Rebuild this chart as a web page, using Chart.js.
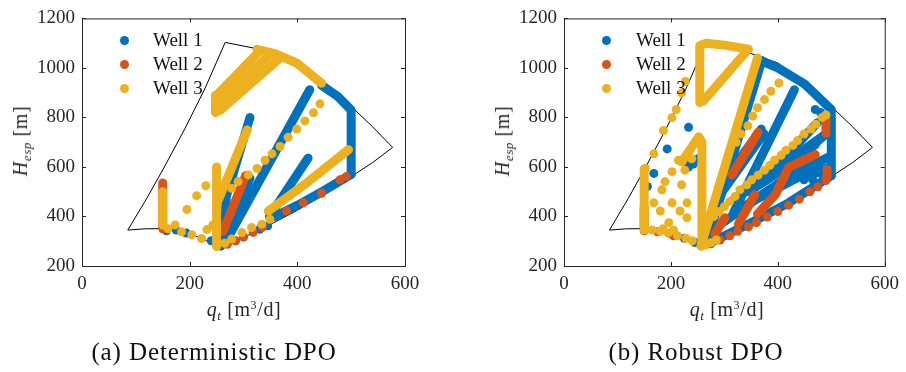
<!DOCTYPE html>
<html>
<head>
<meta charset="utf-8">
<script src="https://cdn.jsdelivr.net/npm/chart.js@4.4.1/dist/chart.umd.min.js"></script>
<style>
  body { margin: 0; background: #fff; }
  #wrap { position: relative; width: 906px; height: 372px; overflow: hidden; font-family: 'Liberation Serif', serif; color: #262626; }
  canvas { position: absolute; top: 0; }
  .lbl { position: absolute; white-space: nowrap; font-size: 20px; line-height: 1; letter-spacing: 0.6px; }
  .ylbl { transform: translate(-50%, -50%) rotate(-90deg); }
  .xlbl { transform: translate(-50%, -50%); }
  .cap { position: absolute; white-space: nowrap; font-size: 25px; letter-spacing: 0.9px; color: #111; transform: translate(-50%, -50%); }
  .sub { font-size: 13px; position: relative; top: 4px; }
  .sup { font-size: 12px; position: relative; top: -7px; }
  .leg { position: absolute; font-size: 19px; line-height: 1; color: #111; }
  .dot { position: absolute; width: 9px; height: 9px; border-radius: 50%; }
</style>
</head>
<body>
<div id="wrap">
  <canvas id="detChart" width="453" height="320" style="left:0"></canvas>
  <canvas id="robChart" width="453" height="320" style="left:453px"></canvas>

  <div class="lbl ylbl" style="left:20px; top:141px"><i>H</i><span class="sub"><i>esp</i></span> [m]</div>
  <div class="lbl xlbl" style="left:244px; top:309px"><i>q</i><span class="sub"><i>t</i></span> [m<span class="sup">3</span>/d]</div>
  <div class="lbl ylbl" style="left:502px; top:141px"><i>H</i><span class="sub"><i>esp</i></span> [m]</div>
  <div class="lbl xlbl" style="left:727px; top:309px"><i>q</i><span class="sub"><i>t</i></span> [m<span class="sup">3</span>/d]</div>

  <div class="cap" style="left:214px; top:352px">(a) Deterministic DPO</div>
  <div class="cap" style="left:696px; top:352px">(b) Robust DPO</div>

  <div id="legDet"></div>
  <div id="legRob"></div>
</div>

<script>
// axis ticks
const xTicks = [0, 200, 400, 600];
const yTicks = [200, 400, 600, 800, 1000, 1200];

const wellNames = ['Well 1', 'Well 2', 'Well 3'];
const wellColors = ['#0072BD', '#D95319', '#EDB120'];

// operating envelope of the pump (q [m3/d], H [m])
const envQ = [85, 120, 151, 190, 228, 266, 324, 400, 450, 507, 540, 577, 540, 500, 450, 400, 350, 300, 257, 225, 185, 150, 115, 85];
const envH = [345, 472, 592, 750, 915, 1103, 1078, 1020, 945, 830, 762, 679, 618, 561, 490, 425, 368, 315, 270, 310, 340, 351, 350, 345];

// (a) deterministic DPO - dense streaks of points and single points
const detW1Bands = [
  [[312, 800], [268, 480], [264, 300]],
  [[312, 555], [266, 310]],
  [[272, 318], [423, 912]],
  [[420, 636], [348, 400]],
  [[445, 930], [475, 885], [500, 830], [500, 570]],
  [[500, 570], [450, 505], [400, 445], [358, 400]]
];
const detW1Dots = [[157, 342], [175, 345], [194, 333], [240, 302], [258, 280], [285, 302], [300, 317], [330, 348], [345, 362], [368, 408]];

const detW2Bands = [
  [[150, 355], [150, 535]],
  [[304, 565], [262, 340]]
];
const detW2Dots = [[150, 350], [270, 288], [285, 302], [300, 318], [318, 336], [335, 356], [380, 422], [411, 455], [445, 494], [479, 548], [491, 561]];

const detW3Bands = [
  [[150, 365], [150, 500]],
  [[250, 278], [250, 600]],
  [[307, 750], [254, 470]],
  [[248, 820], [248, 890]],
  [[248, 885], [330, 1068]],
  [[252, 855], [348, 1052]],
  [[256, 828], [365, 1035]],
  [[325, 1075], [360, 1057], [400, 1018], [445, 938]],
  [[346, 422], [420, 540], [495, 670]]
];
const detW3Dots = [
  [278, 514], [290, 541], [309, 568], [325, 594], [340, 627], [353, 653], [368, 683], [383, 720], [399, 753], [414, 786], [430, 819], [442, 855],
  [230, 524], [213, 484], [195, 428], [173, 366], [185, 338], [204, 326], [222, 311], [232, 347], [243, 366], [160, 350],
  [265, 292], [278, 309], [297, 335], [315, 355], [334, 369], [349, 389]
];

// (b) robust DPO
const robW1Bands = [
  [[362, 1035], [400, 1000], [450, 935], [500, 832], [500, 565]],
  [[268, 300], [370, 1030]],
  [[317, 415], [431, 912]],
  [[289, 514], [369, 753]],
  [[296, 500], [374, 735]],
  [[317, 468], [378, 561], [490, 733]],
  [[400, 607], [474, 779]],
  [[431, 620], [493, 740]],
  [[330, 430], [420, 560], [495, 640]],
  [[300, 380], [360, 470], [440, 560], [498, 600]],
  [[345, 500], [410, 590], [470, 690]],
  [[270, 290], [350, 375], [420, 455], [500, 565]]
];
const robW1Dots = [
  [233, 760], [193, 673], [168, 574], [156, 521], [233, 600], [242, 612], [251, 633], [236, 625],
  [443, 581], [458, 601], [471, 574], [449, 548], [465, 548], [480, 574], [480, 820], [470, 832],
  [200, 330], [225, 312], [245, 295]
];

const robW2Bands = [
  [[150, 342], [150, 435]],
  [[314, 568], [363, 740]],
  [[362, 410], [396, 490], [420, 598], [470, 650]],
  [[326, 369], [357, 488]],
  [[282, 329], [301, 395]],
  [[490, 735], [490, 800]],
  [[492, 560], [492, 590]]
];
const robW2Dots = [
  [275, 290], [292, 305], [310, 322], [325, 340], [345, 358], [360, 375], [380, 398], [400, 420],
  [420, 445], [440, 470], [460, 500], [475, 520], [490, 545], [175, 338], [205, 322]
];

const robW3Bands = [
  [[150, 345], [150, 592]],
  [[254, 860], [254, 1090], [266, 1100], [300, 1092], [345, 1076], [260, 865]],
  [[256, 280], [362, 1040]],
  [[220, 620], [252, 722], [258, 700], [258, 282]]
];
const robW3Dots = [
  [152, 594], [168, 653], [186, 747], [202, 799], [210, 832], [220, 899], [227, 945], [254, 1058],
  [183, 508], [202, 581], [220, 528], [226, 587], [202, 455], [217, 422], [230, 455], [180, 422],
  [196, 375], [168, 455], [189, 541], [214, 627], [239, 633], [205, 345], [185, 350], [230, 395],
  [402, 939], [387, 906], [375, 872], [362, 839], [353, 806], [344, 766], [331, 733], [322, 700],
  [483, 800], [471, 773], [462, 753], [449, 733], [437, 707], [428, 687], [415, 667], [406, 647],
  [394, 627], [385, 607], [375, 587], [363, 567], [351, 548], [342, 528], [329, 508], [320, 481],
  [310, 460], [300, 440], [290, 420], [280, 400], [270, 380], [490, 810],
  [165, 345], [180, 340], [195, 333], [212, 322], [228, 312], [240, 302], [265, 285], [275, 295], [285, 305]
];

function toXY(list) {
  return list.map(p => ({ x: p[0], y: p[1] }));
}

function buildSets(bandsByWell, dotsByWell) {
  const sets = [];
  sets.push({
    data: envQ.map((q, i) => ({ x: q, y: envH[i] })),
    showLine: true, borderColor: '#000', borderWidth: 1, pointRadius: 0, fill: false
  });
  for (let w = 0; w < 3; w++) {
    bandsByWell[w].forEach(b => {
      sets.push({
        data: toXY(b), showLine: true, borderColor: wellColors[w], borderWidth: 9,
        borderCapStyle: 'round', borderJoinStyle: 'round', pointRadius: 0, fill: false
      });
    });
    sets.push({
      label: wellNames[w], data: toXY(dotsByWell[w]), showLine: false,
      backgroundColor: wellColors[w], borderWidth: 0, pointRadius: 4.5, pointHoverRadius: 4.5
    });
  }
  // chart.js draws the first dataset on top
  return sets.reverse();
}

// matlab-like box with inward ticks
const boxPlugin = {
  id: 'box',
  beforeDatasetsDraw(chart) {
    const { ctx, chartArea: a, scales } = chart;
    ctx.save();
    ctx.strokeStyle = '#262626';
    ctx.lineWidth = 1;
    ctx.strokeRect(a.left + 0.5, a.top + 0.5, a.right - a.left, a.bottom - a.top);
    ctx.beginPath();
    xTicks.forEach(v => {
      const x = Math.round(scales.x.getPixelForValue(v)) + 0.5;
      ctx.moveTo(x, a.bottom); ctx.lineTo(x, a.bottom - 4);
      ctx.moveTo(x, a.top); ctx.lineTo(x, a.top + 4);
    });
    yTicks.forEach(v => {
      const y = Math.round(scales.y.getPixelForValue(v)) + 0.5;
      ctx.moveTo(a.left, y); ctx.lineTo(a.left + 4, y);
      ctx.moveTo(a.right, y); ctx.lineTo(a.right - 4, y);
    });
    ctx.stroke();
    ctx.restore();
  }
};

function makeChart(id, sets, yWidth, rightPad) {
  const tickFont = { family: 'Liberation Serif', size: 19 };
  return new Chart(document.getElementById(id), {
    type: 'scatter',
    data: { datasets: sets },
    options: {
      responsive: false,
      animation: false,
      events: [],
      layout: { padding: { top: 14, right: rightPad, left: 0, bottom: 0 } },
      plugins: { legend: { display: false }, tooltip: { enabled: false } },
      scales: {
        x: {
          min: 0, max: 600,
          afterBuildTicks: s => { s.ticks = xTicks.map(v => ({ value: v })); },
          afterFit: s => { s.height = 54; },
          grid: { display: false, drawTicks: false },
          border: { display: false },
          ticks: { font: tickFont, color: '#262626', padding: 7, maxRotation: 0, callback: v => String(v) }
        },
        y: {
          min: 200, max: 1200,
          afterBuildTicks: s => { s.ticks = yTicks.map(v => ({ value: v })); },
          afterFit: s => { s.width = yWidth; },
          grid: { display: false, drawTicks: false },
          border: { display: false },
          ticks: { font: tickFont, color: '#262626', padding: 7, callback: v => String(v) }
        }
      }
    },
    plugins: [boxPlugin]
  });
}

function makeLegend(id, left, textLeft) {
  const box = document.getElementById(id);
  wellNames.forEach((name, i) => {
    const cy = 40 + i * 24;
    const d = document.createElement('div');
    d.className = 'dot';
    d.style.left = (left - 4.5) + 'px';
    d.style.top = (cy - 4.5) + 'px';
    d.style.background = wellColors[i];
    box.appendChild(d);
    const t = document.createElement('div');
    t.className = 'leg';
    t.style.left = textLeft + 'px';
    t.style.top = (cy - 10) + 'px';
    t.textContent = name;
    box.appendChild(t);
  });
}

makeChart('detChart', buildSets([detW1Bands, detW2Bands, detW3Bands], [detW1Dots, detW2Dots, detW3Dots]), 82, 48);
makeChart('robChart', buildSets([robW1Bands, robW2Bands, robW3Bands], [robW1Dots, robW2Dots, robW3Dots]), 111, 18);
makeLegend('legDet', 124, 153);
makeLegend('legRob', 606, 636);
</script>
</body>
</html>
